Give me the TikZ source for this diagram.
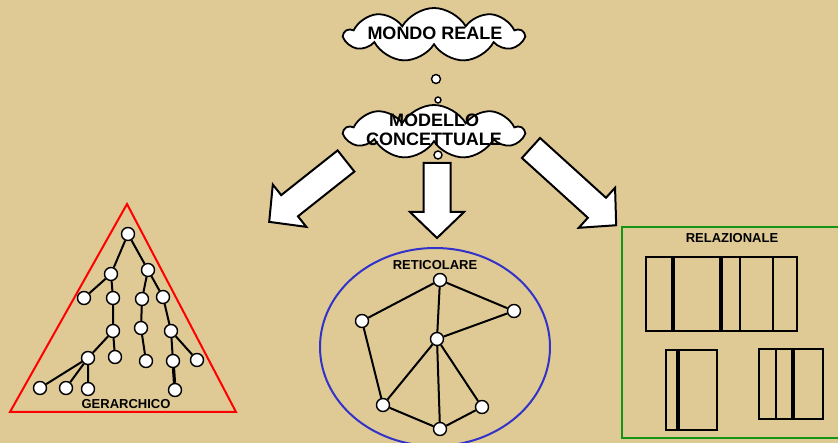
\documentclass[tikz,border=0pt]{standalone}
\usepackage{fontspec}
\setmainfont{Liberation Sans}
\usetikzlibrary{shapes.symbols}
\definecolor{papiro}{RGB}{223,202,150}
\definecolor{blu}{RGB}{50,50,200}
\definecolor{verde}{RGB}{20,150,20}
\newcommand{\fatarrow}[4]{%
  \begin{scope}[shift={(#1,#2)},rotate=#3]
    \draw[freccia] (0,-13.5) -- (#4-26,-13.5) -- (#4-26,-27) -- (#4,0)
      -- (#4-26,27) -- (#4-26,13.5) -- (0,13.5) -- cycle;
  \end{scope}}
\begin{document}
\begin{tikzpicture}[
    x=1pt,y=-1pt,
    nd/.style={draw,black,fill=white,circle,inner sep=0pt,minimum size=13pt,line width=1.4pt},
    ln/.style={black,line width=2pt},
    nuvola/.style={cloud,cloud puffs=9,cloud puff arc=120,aspect=3.4,draw,black,fill=white,
      line width=1.8pt,inner sep=0pt,minimum width=178pt,minimum height=54pt},
    bolla/.style={draw,black,fill=white,circle,inner sep=0pt,line width=1.4pt},
    titolo/.style={font=\bfseries\fontsize{18}{19}\selectfont,align=center},
    etichetta/.style={font=\bfseries\fontsize{13}{13}\selectfont},
    freccia/.style={draw,black,fill=white,line width=2pt,line join=miter},
    tabella/.style={draw,black,line width=2pt}
    ]
    \useasboundingbox[fill=papiro] (0,0) rectangle (838,443);
    % clouds
    \node[nuvola] (mondo) at (434,35) {};
    \node[titolo] (mondotxt) at (435,33) {MONDO REALE};
    \node[bolla,minimum size=9pt] (b1) at (436,79) {};
    \node[bolla,minimum size=6pt] (b2) at (438,100) {};
    \node[nuvola] (modello) at (434,132) {};
    \node[bolla,minimum size=8pt] (b3) at (438,155) {};
    \node[titolo] (modellotxt) at (434,130) {MODELLO\\CONCETTUALE};
    % arrows
    \fatarrow{346}{161}{218.4}{98}
    \fatarrow{437}{163}{-90}{75}
    \fatarrow{531}{148}{-42.2}{115}
    % gerarchico
    \draw[red,line width=2pt] (127,204) -- (236,412) -- (10,412) -- cycle;
    \node[nd] (g0) at (128,234) {};
    \node[nd] (g1) at (111,274) {};
    \node[nd] (g2) at (148,270) {};
    \node[nd] (g11) at (84,298) {};
    \node[nd] (g12) at (113,298) {};
    \node[nd] (g21) at (142,299) {};
    \node[nd] (g22) at (163,297) {};
    \node[nd] (g121) at (113,331) {};
    \node[nd] (g211) at (141,328) {};
    \node[nd] (g221) at (171,331) {};
    \node[nd] (g1211) at (88,358) {};
    \node[nd] (g1212) at (115,357) {};
    \node[nd] (g2111) at (146,361) {};
    \node[nd] (g2211) at (173,361) {};
    \node[nd] (g2212) at (197,360) {};
    \node[nd] (f1) at (40,388) {};
    \node[nd] (f2) at (66,388) {};
    \node[nd] (f3) at (88,389) {};
    \node[nd] (f4) at (175,390) {};
    \draw[ln] (g0) -- (g1) (g0) -- (g2) (g1) -- (g11) (g1) -- (g12)
      (g2) -- (g21) (g2) -- (g22) (g12) -- (g121) (g21) -- (g211)
      (g22) -- (g221) (g121) -- (g1211) (g121) -- (g1212) (g211) -- (g2111)
      (g221) -- (g2211) (g221) -- (g2212) (g1211) -- (f1) (g1211) -- (f2)
      (g1211) -- (f3);
    \draw[black,line width=3.2pt] (g2211) -- (f4);
    \node[etichetta] (gerarchico) at (126,404) {GERARCHICO};
    % reticolare
    \draw[blu,line width=2pt] (435,347) ellipse (115 and 99);
    \node[etichetta] (reticolare) at (435,265) {RETICOLARE};
    \node[nd] (r1) at (440,280) {};
    \node[nd] (r2) at (514,311) {};
    \node[nd] (r3) at (362,321) {};
    \node[nd] (r4) at (437,339) {};
    \node[nd] (r5) at (383,405) {};
    \node[nd] (r6) at (482,407) {};
    \node[nd] (r7) at (440,429) {};
    \draw[ln] (r1) -- (r3) (r1) -- (r2) (r1) -- (r4) (r2) -- (r4) (r3) -- (r5)
      (r4) -- (r5) (r4) -- (r7) (r4) -- (r6) (r5) -- (r7) (r7) -- (r6);
    % relazionale
    \draw[verde,line width=2pt] (622,227) rectangle (842,438);
    \node[etichetta] (relazionale) at (732,238) {RELAZIONALE};
    \draw[tabella] (646,257) rectangle (797,331);
    \draw[black,line width=3.2pt] (673,257) -- (673,331) (721,257) -- (721,331);
    \draw[tabella] (740,257) -- (740,331) (773,257) -- (773,331);
    \draw[tabella] (666,350) rectangle (717,430);
    \draw[black,line width=3.2pt] (678,350) -- (678,430);
    \draw[tabella] (759,349) rectangle (823,419);
    \draw[tabella] (776,349) -- (776,419);
    \draw[black,line width=3.2pt] (793,349) -- (793,419);
\end{tikzpicture}
\end{document}
